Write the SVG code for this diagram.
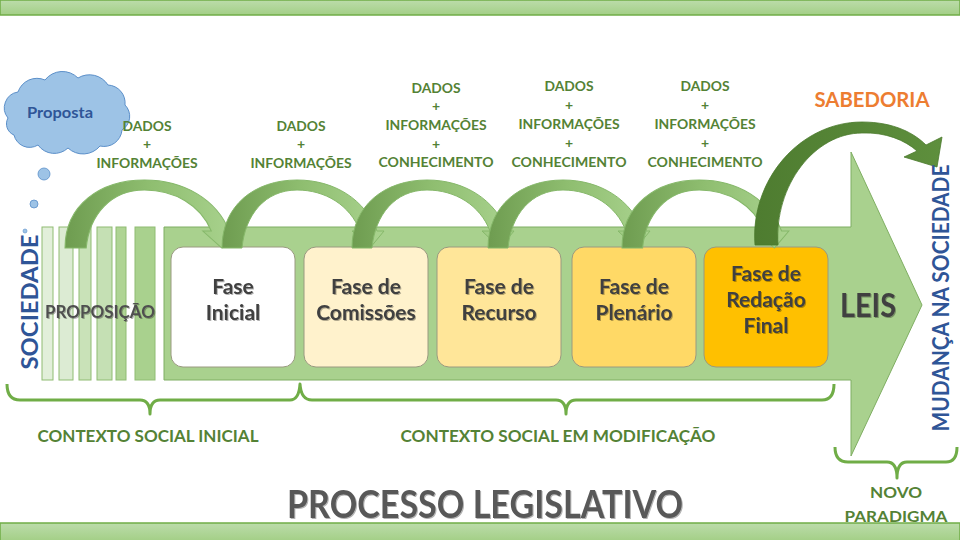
<svg xmlns="http://www.w3.org/2000/svg" width="960" height="540" viewBox="0 0 960 540">
<defs>
<style>
.t{font-family:Lato,"Liberation Sans",sans-serif;font-weight:bold;text-anchor:middle}
.g{fill:#548235}
.blue{fill:#2f5597}
.box{stroke:#9a9a80;stroke-width:1}
.bt{fill:#404040;font-size:21px}
.stripe{stroke:#8fbc72;stroke-width:1}
.brk{fill:none;stroke:#70ad47;stroke-width:3;stroke-linejoin:round}
.curve{stroke:#86b86a;stroke-width:1}
</style>
<linearGradient id="barG" x1="0" y1="0" x2="0" y2="1">
<stop offset="0" stop-color="#bcdcab"/><stop offset="1" stop-color="#a3cf86"/>
</linearGradient>
<linearGradient id="curveG" x1="0" y1="0" x2="1" y2="0">
<stop offset="0" stop-color="#6e9c50"/><stop offset="0.5" stop-color="#8fbe70"/><stop offset="1" stop-color="#aad38f"/>
</linearGradient>
<linearGradient id="darkG" x1="0" y1="0" x2="1" y2="0">
<stop offset="0" stop-color="#4e7c30"/><stop offset="1" stop-color="#5e8f3d"/>
</linearGradient>
<filter id="sh" x="-10%" y="-10%" width="130%" height="140%">
<feDropShadow dx="1" dy="1" stdDeviation="0.6" flood-color="#000" flood-opacity="0.3"/>
</filter>
<path id="arc" d="M 0,248 C 0,205 33,180 75,180 C 113,180 143,200 155,231 L 162,231 L 148,248 L 130,231 L 138,231 C 128,205 103,190 75,190 C 43,190 23,215 20,248 Z"/>
</defs>

<rect width="960" height="540" fill="#ffffff"/>

<g id="top-bar"><rect x="0" y="0" width="960" height="15" fill="url(#barG)" stroke="#70ad47" stroke-width="1.5"/></g>
<g id="bottom-bar"><rect x="0" y="523" width="960" height="18" fill="url(#barG)" stroke="#70ad47" stroke-width="1.5"/></g>

<g id="main-arrow">
<path d="M 164,227 L 851,227 L 851,152 L 922,305 L 851,456 L 851,380 L 164,380 Z" fill="#a9d18e" stroke="#7fae62" stroke-width="1"/>
</g>

<g id="stripes">
<rect class="stripe" x="42" y="227" width="11" height="153" fill="#e2efda"/>
<rect class="stripe" x="59" y="227" width="14" height="153" fill="#dcebd3"/>
<rect class="stripe" x="79" y="227" width="12" height="153" fill="#c9e2b8"/>
<rect class="stripe" x="97" y="227" width="15" height="153" fill="#c5e0b4"/>
<rect class="stripe" x="116" y="227" width="10" height="153" fill="#afd494"/>
<rect class="stripe" x="135" y="227" width="20" height="153" fill="#a9d18e"/>
</g>

<g id="proposicao"><text class="t" x="100" y="318" font-size="16.5" fill="#505050" filter="url(#sh)" textLength="110" lengthAdjust="spacingAndGlyphs">PROPOSIÇÃO</text></g>

<g id="fase-inicial">
<rect class="box" x="171" y="247" width="124" height="120" rx="12" fill="#ffffff"/>
<text class="t bt" x="233" y="294" filter="url(#sh)">Fase</text>
<text class="t bt" x="233" y="320" filter="url(#sh)">Inicial</text>
</g>
<g id="fase-comissoes">
<rect class="box" x="304" y="247" width="124" height="120" rx="12" fill="#fff2cc"/>
<text class="t bt" x="366" y="294" filter="url(#sh)">Fase de</text>
<text class="t bt" x="366" y="320" filter="url(#sh)">Comissões</text>
</g>
<g id="fase-recurso">
<rect class="box" x="437" y="247" width="124" height="120" rx="12" fill="#ffe699"/>
<text class="t bt" x="499" y="294" filter="url(#sh)">Fase de</text>
<text class="t bt" x="499" y="320" filter="url(#sh)">Recurso</text>
</g>
<g id="fase-plenario">
<rect class="box" x="572" y="247" width="124" height="120" rx="12" fill="#ffd966"/>
<text class="t bt" x="634" y="294" filter="url(#sh)">Fase de</text>
<text class="t bt" x="634" y="320" filter="url(#sh)">Plenário</text>
</g>
<g id="fase-redacao-final">
<rect class="box" x="704" y="247" width="124" height="120" rx="12" fill="#ffc000" stroke="#b08a2a"/>
<text class="t bt" x="766" y="281" filter="url(#sh)">Fase de</text>
<text class="t bt" x="766" y="307" filter="url(#sh)">Redação</text>
<text class="t bt" x="766" y="333" filter="url(#sh)">Final</text>
</g>

<g id="leis"><text class="t" x="868" y="317" font-size="32" fill="#404040" filter="url(#sh)" textLength="56" lengthAdjust="spacingAndGlyphs">LEIS</text></g>

<g id="connectors">
<use href="#arc" class="curve" fill="url(#curveG)" transform="translate(65,0) scale(1.06,1)"/>
<use href="#arc" class="curve" fill="url(#curveG)" transform="translate(222,0)"/>
<use href="#arc" class="curve" fill="url(#curveG)" transform="translate(352,0)"/>
<use href="#arc" class="curve" fill="url(#curveG)" transform="translate(488,0)"/>
<use href="#arc" class="curve" fill="url(#curveG)" transform="translate(622,0) scale(1.03,1)"/>
<path d="M 755,245 C 750,180 800,122 862,122 C 895,122 915,134 926,145 L 942,137 L 937,167 L 904,157 L 917,151 C 905,140 885,132 862,133 C 815,133 774,185 778,245 Z" fill="url(#darkG)" stroke="#4a7a2c" stroke-width="0.8"/>
<path class="brk" d="M 7,384 Q 7,400 20,400 L 140,400 Q 150,400 150,414 Q 150,400 160,400 L 290,400 Q 299,400 300,384 Q 301,400 312,400 L 556,400 Q 566,400 566,414 Q 566,400 576,400 L 822,400 Q 834,400 834,384"/>
<path class="brk" d="M 835,447 Q 835,462 848,462 L 887,462 Q 897,462 897,478 Q 897,462 907,462 L 946,462 Q 957,462 957,447"/>
</g>

<g id="cloud">
<path d="M 8,118 A 16,16 0 0 1 18,92 A 20,20 0 0 1 45,80 A 22,22 0 0 1 78,78 A 22,22 0 0 1 108,85 A 18,18 0 0 1 125,105 A 16,16 0 0 1 122,130 A 18,18 0 0 1 100,146 A 22,22 0 0 1 68,148 A 20,20 0 0 1 38,145 A 16,16 0 0 1 14,135 A 12,12 0 0 1 8,118 Z" fill="#9dc3e6" stroke="#5b8fc9" stroke-width="1"/>
<text class="t blue" x="60" y="118" font-size="16" textLength="66" lengthAdjust="spacingAndGlyphs">Proposta</text>
<circle cx="44" cy="174" r="6" fill="#9dc3e6" stroke="#5b8fc9" stroke-width="0.8"/>
<circle cx="34" cy="204" r="4" fill="#9dc3e6" stroke="#5b8fc9" stroke-width="0.8"/>
<circle cx="25" cy="231" r="2" fill="#9dc3e6" stroke="#5b8fc9" stroke-width="0.6"/>
</g>

<g id="label-1" class="t g" font-size="14">
<text x="147" y="131" textLength="49" lengthAdjust="spacingAndGlyphs">DADOS</text>
<text x="147" y="149">+</text>
<text x="147" y="168" textLength="101" lengthAdjust="spacingAndGlyphs">INFORMAÇÕES</text>
</g>
<g id="label-2" class="t g" font-size="14">
<text x="301" y="131" textLength="49" lengthAdjust="spacingAndGlyphs">DADOS</text>
<text x="301" y="149">+</text>
<text x="301" y="168" textLength="101" lengthAdjust="spacingAndGlyphs">INFORMAÇÕES</text>
</g>
<g id="label-3" class="t g" font-size="14">
<text x="436" y="93" textLength="49" lengthAdjust="spacingAndGlyphs">DADOS</text>
<text x="436" y="111">+</text>
<text x="436" y="130" textLength="101" lengthAdjust="spacingAndGlyphs">INFORMAÇÕES</text>
<text x="436" y="149">+</text>
<text x="436" y="167" textLength="115" lengthAdjust="spacingAndGlyphs">CONHECIMENTO</text>
</g>
<g id="label-4" class="t g" font-size="14">
<text x="569" y="91" textLength="49" lengthAdjust="spacingAndGlyphs">DADOS</text>
<text x="569" y="110">+</text>
<text x="569" y="129" textLength="101" lengthAdjust="spacingAndGlyphs">INFORMAÇÕES</text>
<text x="569" y="148">+</text>
<text x="569" y="167" textLength="115" lengthAdjust="spacingAndGlyphs">CONHECIMENTO</text>
</g>
<g id="label-5" class="t g" font-size="14">
<text x="705" y="91" textLength="49" lengthAdjust="spacingAndGlyphs">DADOS</text>
<text x="705" y="110">+</text>
<text x="705" y="129" textLength="101" lengthAdjust="spacingAndGlyphs">INFORMAÇÕES</text>
<text x="705" y="148">+</text>
<text x="705" y="167" textLength="115" lengthAdjust="spacingAndGlyphs">CONHECIMENTO</text>
</g>

<g id="sabedoria"><text class="t" x="872" y="107" font-size="21" fill="#ed7d31" textLength="115" lengthAdjust="spacingAndGlyphs">SABEDORIA</text></g>

<g id="sociedade"><text class="t blue" transform="translate(38,302) rotate(-90)" font-size="23" textLength="135" lengthAdjust="spacingAndGlyphs">SOCIEDADE</text></g>
<g id="mudanca"><text class="t blue" transform="translate(949,298) rotate(-90)" font-size="22" textLength="267" lengthAdjust="spacingAndGlyphs">MUDANÇA NA SOCIEDADE</text></g>

<g id="contexto-inicial"><text class="t g" x="148" y="442" font-size="17" textLength="221" lengthAdjust="spacingAndGlyphs">CONTEXTO SOCIAL INICIAL</text></g>
<g id="contexto-modificacao"><text class="t g" x="558" y="442" font-size="17" textLength="315" lengthAdjust="spacingAndGlyphs">CONTEXTO SOCIAL EM MODIFICAÇÃO</text></g>
<g id="novo-paradigma" class="t g" font-size="16">
<text x="896" y="498" textLength="52" lengthAdjust="spacingAndGlyphs">NOVO</text>
<text x="896" y="522" textLength="103" lengthAdjust="spacingAndGlyphs">PARADIGMA</text>
</g>

<g id="titulo"><text class="t" x="485" y="518" font-size="38" fill="#595959" filter="url(#sh)" textLength="396" lengthAdjust="spacingAndGlyphs">PROCESSO LEGISLATIVO</text></g>
</svg>
